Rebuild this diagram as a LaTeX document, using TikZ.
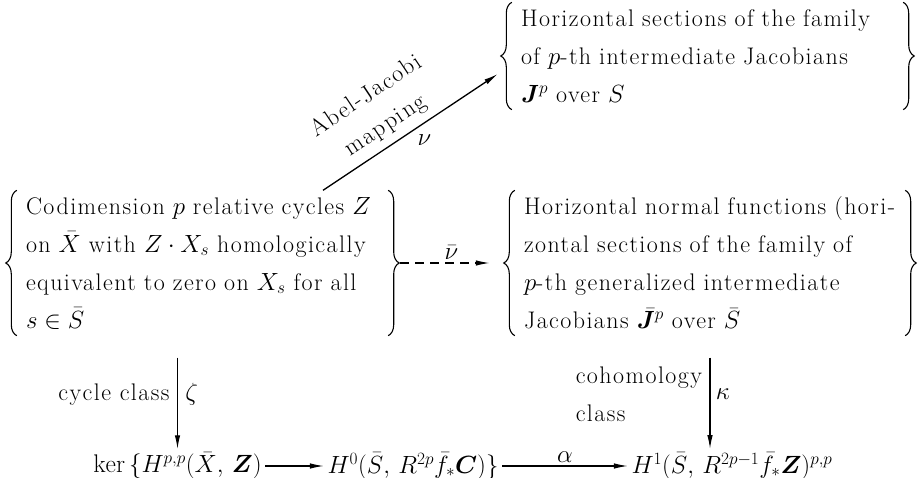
\documentclass[tikz,border=0pt]{standalone}
\usepackage{amsmath,amssymb}
\usepackage{bm}
\usepackage{fontspec}
\setmainfont{Latin Modern Roman}[LetterSpace=6]
\usetikzlibrary{arrows.meta, positioning, calc, decorations.pathreplacing}

\begin{document}
\begin{tikzpicture}[
    x=1pt, y=-1pt,
    every node/.style={font=\fontsize{24}{38}\selectfont},
    setbox/.style={align=left, inner xsep=9pt, inner ysep=0pt},
    lbrace/.style={decorate, decoration={brace, amplitude=11pt}, line width=1.1pt},
    arrow/.style={-{Latex[length=14pt,width=5.5pt]}, line width=1.3pt},
    dasharrow/.style={arrow, dash pattern=on 9pt off 6pt},
    formula/.style={font=\fontsize{25.5}{38}\selectfont}
]
    \useasboundingbox (0,0) rectangle (920,478);

    % the three families
    \node[setbox, text width=353pt, minimum height=145pt] (cycles) at (202.5,263)
        {Codimension $p$ relative cycles $Z$\\
         on $\bar X$ with $Z\cdot X_s$ homologically\\
         equivalent to zero on $X_s$ for all\\
         $s\in\bar S$};
    \node[setbox, text width=373pt, minimum height=107pt] (jac) at (707.5,56)
        {Horizontal sections of the family\\
         of $p$-th intermediate Jacobians\\
         $\bm{J}^p$ over $S$};
    \node[setbox, text width=372pt, minimum height=145pt] (normal) at (710,263)
        {Horizontal normal functions (hori-\\
         zontal sections of the family of\\
         $p$-th generalized intermediate\\
         Jacobians $\bar{\bm{J}}^p$ over $\bar S$};

    \foreach \n in {cycles, jac, normal} {
        \draw[lbrace] (\n.south west) -- (\n.north west);
        \draw[lbrace] (\n.north east) -- (\n.south east);
    }

    % bottom row
    \node[formula] (ker) at (177.5,466) {$\ker\,\{H^{p,p}(\bar X,\,\bm{Z})$};
    \node[formula] (hzero) at (413,466) {$H^0(\bar S,\,R^{2p}\bar f_*\bm{C})\}$};
    \node[formula] (hone) at (732,466) {$H^1(\bar S,\,R^{2p-1}\bar f_*\bm{Z})^{p,p}$};

    \draw[arrow] (ker) -- (hzero);
    \draw[arrow] (hzero) -- node[above] {$\alpha$} (hone);

    % maps
    \draw[arrow] ([xshift=120.5pt]cycles.north) -- ([xshift=-14pt, yshift=-18pt]jac.west)
        node[pos=0.42, above=4pt, sloped, align=center, font=\fontsize{24}{35}\selectfont] {Abel-Jacobi\\mapping}
        node[pos=0.58, below=8pt] {$\nu$};
    \draw[dasharrow, shorten <=12pt, shorten >=25pt] (cycles.east) -- node[above] {$\bar\nu$} (normal.west);
    \draw[arrow] ([yshift=-22pt]cycles.south -| ker.north) -- (ker.north)
        node[pos=0.4, left=4pt] {cycle class}
        node[pos=0.4, right=4pt] {$\zeta$};
    \draw[arrow] ([yshift=-22pt]normal.south) -- (normal.south |- hone.north)
        node[pos=0.4, left=4pt, align=left] {cohomology\\class}
        node[pos=0.4, right=2pt] {$\kappa$};
\end{tikzpicture}
\end{document}
